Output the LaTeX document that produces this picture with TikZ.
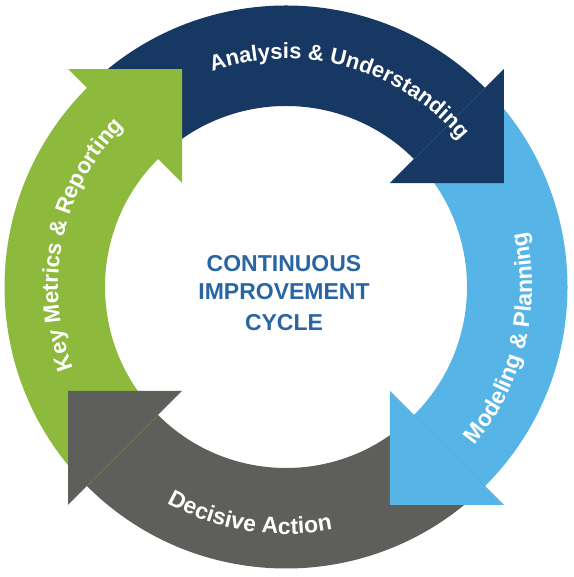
\documentclass[tikz,border=0pt]{standalone}
\usepackage{fontspec}
\setmainfont{Liberation Sans}
\usetikzlibrary{calc,decorations.text}
\definecolor{cnavy}{HTML}{173862}
\definecolor{cblue}{HTML}{56B5E6}
\definecolor{cgreen}{HTML}{8DB93C}
\definecolor{cgray}{HTML}{5E5F5A}
\definecolor{ctext}{HTML}{2A65A3}
\def\rOuter{281.5}
\def\rInner{181}
\tikzset{
  bandfill/.style={fill=#1, draw=none},
  arctext/.style 2 args={decorate, decoration={text along path, text align=center, text color=white, text={|\fontsize{#1}{25}\selectfont\bfseries|#2}}},
  centertext/.style={text=ctext, font=\fontsize{23}{28}\selectfont\bfseries, anchor=base, inner sep=0pt}
}
\newcommand\cycband[3]{% color, start angle, end angle
  \fill[bandfill=#1] ($(C)+(#2:\rOuter)$) arc[start angle=#2,end angle=#3,radius=\rOuter]
    -- ($(C)+(#3:\rInner)$) arc[start angle=#3,end angle=#2,radius=\rInner] -- cycle;}
\newcommand\cychead[2]{% color, base angle
  \fill[bandfill=#1] ($(C)+(#2:308)$) -- ($(C)+(#2:147)$) -- ($(C)+(#2:227.5)+(#2-90:80.5)$) -- cycle;}
\begin{document}
\begin{tikzpicture}[x=1pt,y=1pt]
\useasboundingbox (0,0) rectangle (573,577);
\coordinate (C) at (286,290);
% bands
\cycband{cnavy}{135}{45}
\cycband{cblue}{45}{-45}
\cycband{cgray}{-45}{-135}
\cycband{cgreen}{-135}{-225}
% heads
\cychead{cnavy}{45}
\cychead{cblue}{-45}
\cychead{cgray}{-135}
\cychead{cgreen}{135}
% arc labels
\path[arctext={22}{Analysis {\&} Understanding}] ($(C)+(144.5:228)$) arc[start angle=144.5,end angle=4.5,radius=228];
\path[arctext={22.5}{Key Metrics {\&} Reporting}] ($(C)+(238:228)$) arc[start angle=238,end angle=98,radius=228];
\path[arctext={23}{Modeling {\&} Planning}] ($(C)+(-83.5:246)$) arc[start angle=-83.5,end angle=56.5,radius=246];
\path[arctext={23}{Decisive Action}] ($(C)+(191:247)$) arc[start angle=191,end angle=331,radius=247];
% centre
\node[centertext] (t1) at (284,305.3) {CONTINUOUS};
\node[centertext] (t2) at (284,277) {IMPROVEMENT};
\node[centertext] (t3) at (284,246.3) {CYCLE};
\end{tikzpicture}
\end{document}
